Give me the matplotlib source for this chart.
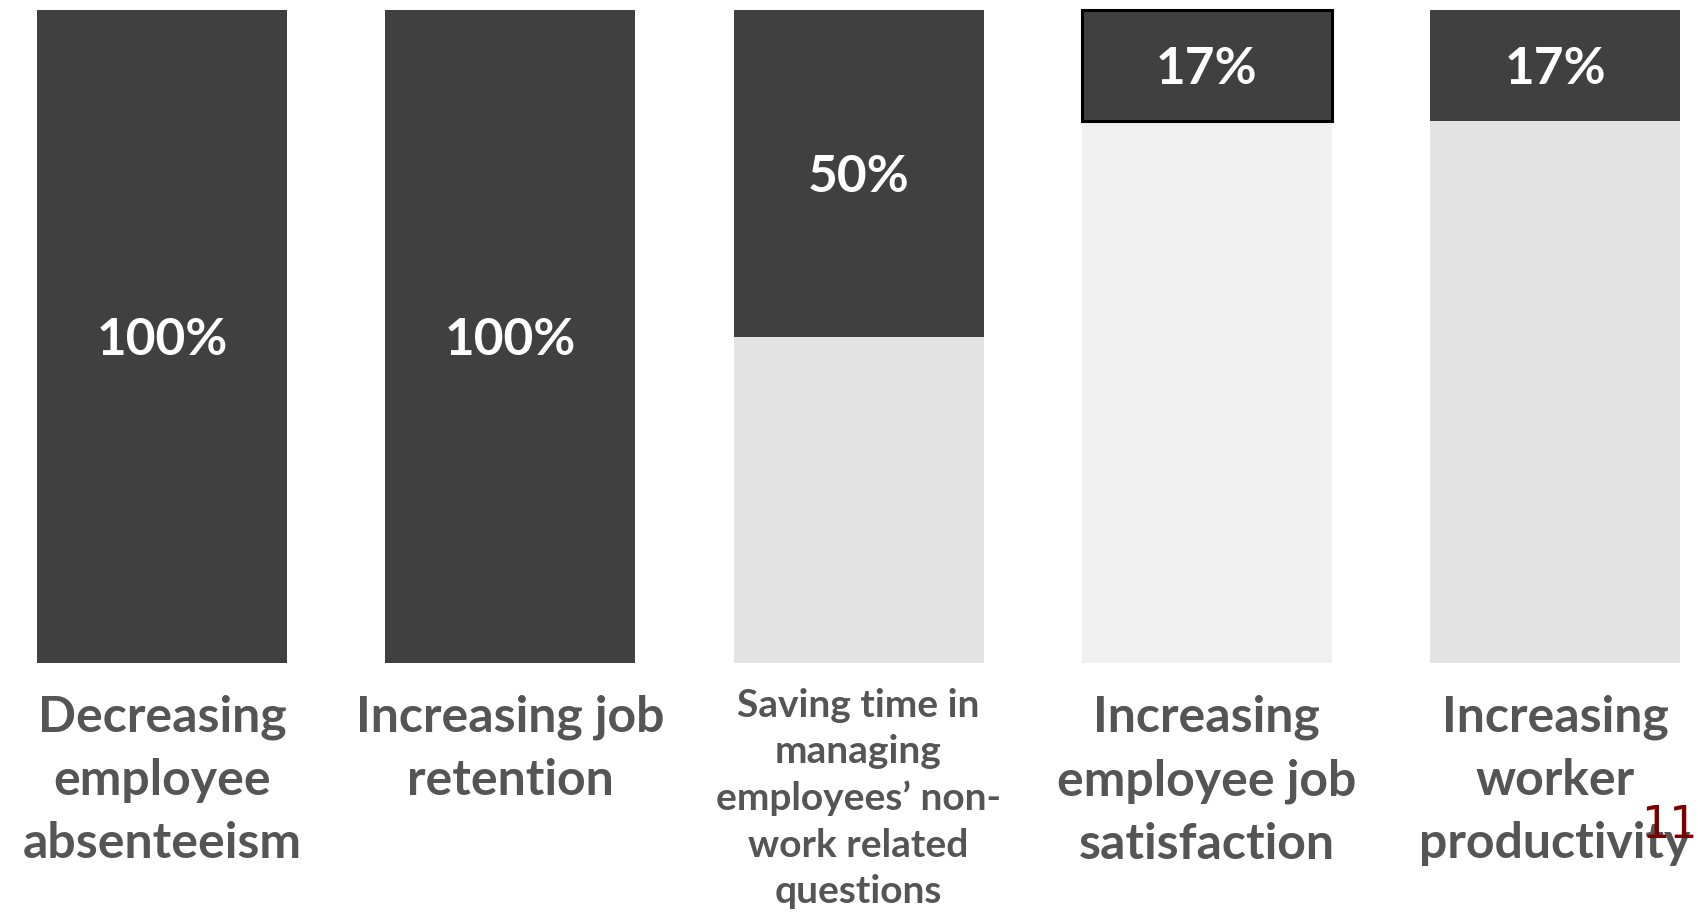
import matplotlib
matplotlib.use("Agg")
import matplotlib.pyplot as plt

categories = [
    "Decreasing\nemployee\nabsenteeism",
    "Increasing job\nretention",
    "Saving time in\nmanaging\nemployees’ non-\nwork related\nquestions",
    "Increasing\nemployee job\nsatisfaction",
    "Increasing\nworker\nproductivity",
]
values = [100, 100, 50, 17, 17]
value_labels = ["100%", "100%", "50%", "17%", "17%"]
page_number = "11"

DARK = "#404040"
LIGHT = ["#e3e3e3", "#e3e3e3", "#e3e3e3", "#f0f0f0", "#e3e3e3"]
TEXT = "#555555"

W, H = 1698, 914
fig = plt.figure(figsize=(W / 100, H / 100), dpi=100)
ax = fig.add_axes([0, 0, 1, 1])
ax.set_axis_off()

x0, step = 162, 348.25
px_per_unit = (663 - 10) / 100.0
ax.set_xlim((0 - x0) / step, (W - x0) / step)
ax.set_ylim(-(H - 663) / px_per_unit, 663 / px_per_unit)

width = 250 / step
for i, v in enumerate(values):
    rest = 100 - v
    if rest > 0:
        ax.bar(i, rest, bottom=0, width=width, color=LIGHT[i], linewidth=0)
    edge = "black" if i == 3 else "none"
    lw = 2.2 if i == 3 else 0
    ax.bar(i, v, bottom=rest, width=width, color=DARK, edgecolor=edge, linewidth=lw)
    ax.text(i, rest + v / 2 - 0.6, value_labels[i], ha="center", va="center",
            color="white", fontsize=37, fontfamily="Lato", fontweight="bold")

for i, c in enumerate(categories):
    small = i == 2
    ypix = 688 if small else 695
    ax.text(i, -(ypix - 663) / px_per_unit, c, ha="center", va="top",
            color=TEXT, fontsize=28 if small else 36, fontfamily="Lato",
            fontweight="bold", linespacing=1.39 if small else 1.48)

fig.text(1669 / W, 1 - 826 / H, page_number, ha="center", va="center",
         color="#7b0000", fontsize=32, fontfamily="DejaVu Sans")

fig.savefig("out.png", dpi=100, facecolor="white")
